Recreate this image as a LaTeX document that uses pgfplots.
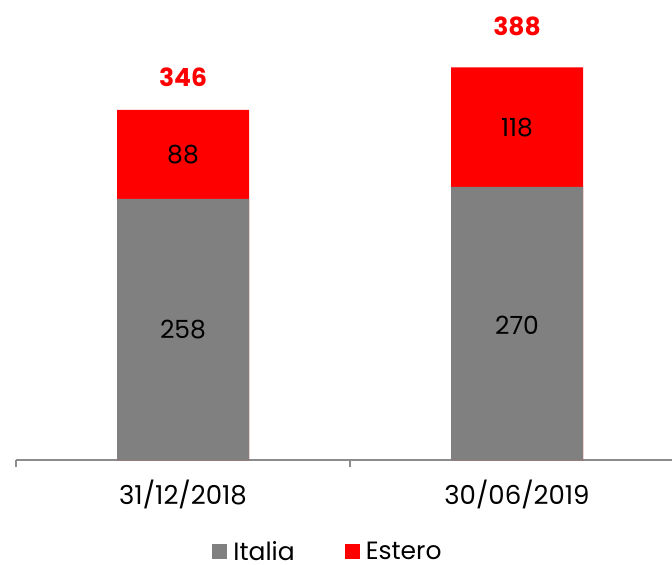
\documentclass[border=0pt]{standalone}
\usepackage{fontspec}
\setmainfont{Poppins}
\usepackage{pgfplots}
\pgfplotsset{compat=1.18}
\definecolor{itgray}{HTML}{808080}
\definecolor{esred}{HTML}{FF0000}
\definecolor{axgray}{HTML}{8C8C8C}
\begin{document}
\begin{tikzpicture}
\begin{axis}[
 scale only axis, width=656bp, height=460bp,
 xmin=-0.5, xmax=1.464, ymin=0, ymax=454.7,
 axis y line=none, axis x line*=bottom,
 x axis line style={axgray, line width=1.2bp},
 xtick={0,1}, xticklabels={31/12/2018,30/06/2019},
 major tick length=0pt,
 extra x ticks={-0.5,0.5}, extra x tick labels={},
 extra x tick style={major tick length=7bp, tick align=outside, tick style={axgray,line width=1.2bp}},
 xticklabel style={font=\fontsize{26bp}{30bp}\selectfont, anchor=base, yshift=-44bp},
 clip=false,
 legend columns=2,
 legend image code/.code={\fill[#1] (0bp,-8bp) rectangle (15bp,7bp);},
 legend style={at={(0.4756,-0.198)}, anchor=center, draw=none, fill=none,
   font=\fontsize{25bp}{28bp}\selectfont,
   nodes={inner ysep=1bp, inner xsep=2bp, text depth=0pt},
   /tikz/every odd column/.append style={column sep=4bp},
   /tikz/every even column/.append style={column sep=48bp}},
 legend cell align=left,
]
\addplot[ybar, bar width=132bp, bar shift=0pt, fill=esred, draw=none, forget plot] coordinates {(0,346) (1,388)};
\addplot[ybar, bar width=132bp, bar shift=0pt, fill=itgray, draw=none, forget plot] coordinates {(0,258) (1,270)};
\addplot[draw=none, mark=none, forget plot, nodes near coords, point meta=explicit symbolic,
  nodes near coords align={center},
  every node near coord/.append style={anchor=center, text=black, font=\fontsize{25bp}{29bp}\selectfont}]
  coordinates {(0,129) [258] (1,133) [270] (0,301.5) [88] (1,329) [118]};
\addplot[draw=none, mark=none, forget plot, nodes near coords, point meta=explicit symbolic,
  nodes near coords align={center},
  every node near coord/.append style={anchor=center, text=esred, font=\fontsize{25bp}{29bp}\selectfont\bfseries}]
  coordinates {(0,378.6) [346] (1,429) [388]};
\addlegendimage{fill=itgray, draw=none}
\addlegendentry{Italia}
\addlegendimage{fill=esred, draw=none}
\addlegendentry{Estero}
\end{axis}
\pgfresetboundingbox
\path[use as bounding box] (-16bp,-105bp) rectangle (656bp,460bp);
\end{tikzpicture}
\end{document}
